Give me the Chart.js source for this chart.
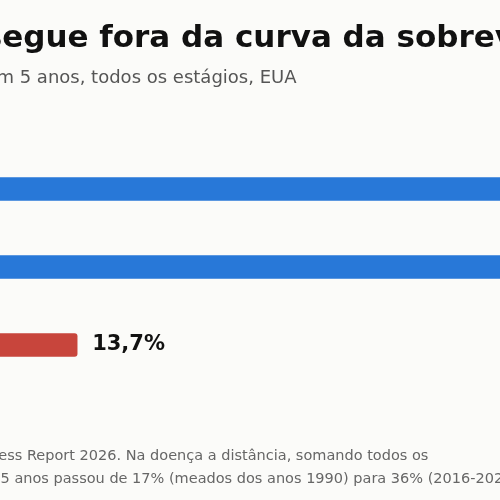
<!DOCTYPE html>
<html><head><meta charset="utf-8">
<script src="https://cdn.jsdelivr.net/npm/chart.js@4"></script>
<style>
html,body{margin:0;padding:0;width:500px;height:500px;overflow:hidden;background:#fbfbf9;font-family:"DejaVu Sans",sans-serif}
#wrap{position:absolute;left:-400px;top:0;width:1350px;height:500px}
#c{position:absolute;left:0;top:0}
.t{position:absolute;white-space:nowrap}
#title{left:214px;top:18px;font-size:31px;font-weight:bold;color:#111}
#sub{left:216px;top:66px;font-size:18px;color:#555}
.foot{font-size:14.5px;color:#666}
</style></head><body>
<div id="wrap">
<canvas id="c" width="1350" height="500"></canvas>
<div id="title" class="t">Pâncreas segue fora da curva da sobrevida</div>
<div id="sub" class="t">Sobrevida relativa em 5 anos, todos os estágios, EUA</div>
<div class="t foot" style="left:210px;top:447px">Fonte: AACR Cancer Progress Report 2026. Na doença a distância, somando todos os</div>
<div class="t foot" style="left:214px;top:470px">estágios, a sobrevida em 5 anos passou de 17% (meados dos anos 1990) para 36% (2016-2022).</div>
</div>
<script>
const categories = ["Todos os cânceres", "Câncer de mama", "Pâncreas"];
const values = [69.0, 91.0, 13.7];
const colors = ["#2878d8", "#2878d8", "#c8453c"];
const valueLabels = ["69,0%", "91,0%", "13,7%"];

const labelPlugin = {
  id: "vlabels",
  afterDatasetsDraw(chart) {
    const ctx = chart.ctx;
    const meta = chart.getDatasetMeta(0);
    ctx.save();
    ctx.font = "bold 21px 'DejaVu Sans'";
    ctx.fillStyle = "#111";
    ctx.textBaseline = "middle";
    meta.data.forEach((b, i) => ctx.fillText(valueLabels[i], b.x + 15, b.y));
    ctx.restore();
  }
};

new Chart(document.getElementById("c"), {
  type: "bar",
  data: { labels: categories, datasets: [{ data: values, backgroundColor: colors, barThickness: 23, borderRadius: 3, borderSkipped: "start" }] },
  options: {
    indexAxis: "y", responsive: false, animation: false,
    layout: { padding: { top: 150, bottom: 116, left: 0, right: 53 } },
    plugins: { legend: { display: false }, tooltip: { enabled: false } },
    scales: {
      x: { display: false, min: 0, max: 100 },
      y: { grid: { display: false }, border: { display: false },
           ticks: { color: "#333", font: { size: 16, family: "DejaVu Sans" } },
           afterFit(s) { s.width = 347; } }
    }
  },
  plugins: [labelPlugin]
});
</script>
</body></html>
